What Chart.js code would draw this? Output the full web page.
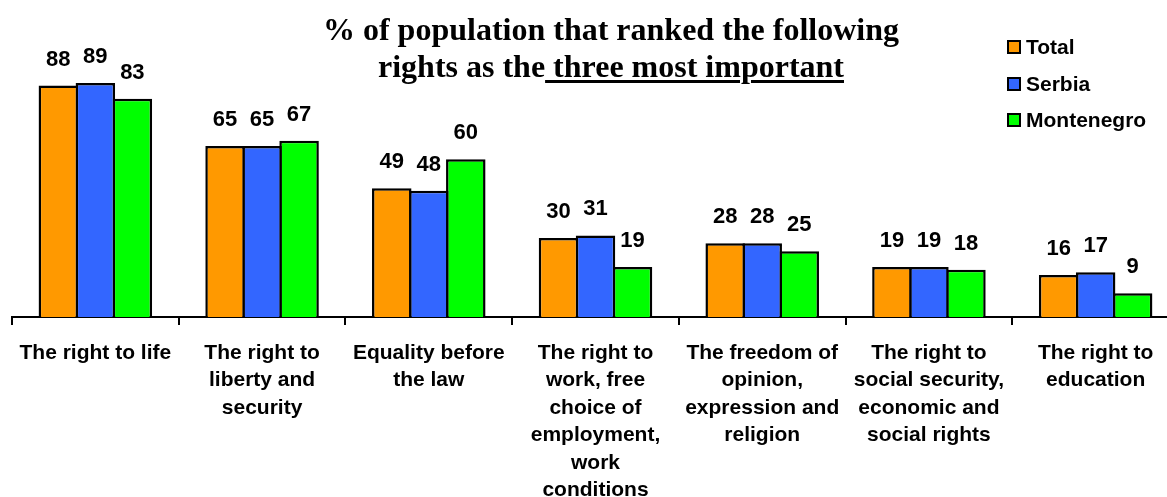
<!DOCTYPE html>
<html lang="en">
<head>
  <meta charset="UTF-8">
  <title>Most important rights</title>
  <style>
    body {
      margin: 0;
      background: #fff;
      overflow: hidden;
      width: 1167px;
      height: 497px;
      position: relative;
    }
    #wrap {
      position: absolute;
      left: 0;
      top: 0;
    }
    .title {
      position: absolute;
      left: 0;
      top: 11px;
      width: 1222px;
      text-align: center;
      font: bold 32px/37px 'Liberation Serif', 'Times New Roman', serif;
      color: #000;
    }
    .title u {
      text-decoration-thickness: 3px;
      text-underline-offset: 3px;
    }
    .legend {
      position: absolute;
      left: 1007px;
      top: 29px;
      font: bold 21px 'Liberation Sans', Arial, sans-serif;
      color: #000;
    }
    .legend .row {
      display: flex;
      align-items: center;
      height: 36.5px;
    }
    .legend .box {
      width: 10px;
      height: 10px;
      border: 2px solid #000;
      margin-right: 5px;
    }
  </style>
</head>
<body>
  <div id="wrap">
    <canvas id="rightsChart" width="1182" height="520"></canvas>
  </div>
  <div class="title">% of population that ranked the following<br>rights as the<u> three most important</u></div>
  <div class="legend" id="legend"></div>

  <script src="https://cdn.jsdelivr.net/npm/chart.js"></script>
  <script>
    const categories = [
      'The right to life',
      ['The right to', 'liberty and', 'security'],
      ['Equality before', 'the law'],
      ['The right to', 'work, free', 'choice of', 'employment,', 'work', 'conditions'],
      ['The freedom of', 'opinion,', 'expression and', 'religion'],
      ['The right to', 'social security,', 'economic and', 'social rights'],
      ['The right to', 'education']
    ];
    const seriesNames = ['Total', 'Serbia', 'Montenegro'];
    const seriesColors = ['#FF9900', '#3366FF', '#00FF00'];
    const totalValues = [88, 65, 49, 30, 28, 19, 16];
    const serbiaValues = [89, 65, 48, 31, 28, 19, 17];
    const montenegroValues = [83, 67, 60, 19, 25, 18, 9];

    const FONT = "'Liberation Sans', Arial, sans-serif";

    // legend built from the series
    const legendEl = document.getElementById('legend');
    seriesNames.forEach((name, i) => {
      const row = document.createElement('div');
      row.className = 'row';
      row.innerHTML = `<span class="box" style="background:${seriesColors[i]}"></span>${name}`;
      legendEl.appendChild(row);
    });

    // value labels above every bar
    const valueLabels = {
      id: 'valueLabels',
      afterDatasetsDraw(chart) {
        const ctx = chart.ctx;
        ctx.save();
        ctx.font = `bold 22px ${FONT}`;
        ctx.fillStyle = '#000';
        ctx.textAlign = 'center';
        ctx.textBaseline = 'alphabetic';
        chart.data.datasets.forEach((ds, i) => {
          chart.getDatasetMeta(i).data.forEach((bar, j) => {
            ctx.fillText(ds.data[j], bar.x, bar.y - 20);
          });
        });
        ctx.restore();
      }
    };

    const allValues = [totalValues, serbiaValues, montenegroValues];
    const ctx = document.getElementById('rightsChart').getContext('2d');
    new Chart(ctx, {
      type: 'bar',
      data: {
        labels: categories,
        datasets: seriesNames.map((name, i) => ({
          label: name,
          data: allValues[i],
          backgroundColor: seriesColors[i],
          borderColor: '#000',
          borderWidth: 2.5,
          // slightly wider than the slot so neighbours share one border
          barPercentage: 1.0676,
          categoryPercentage: 0.666
        }))
      },
      options: {
        responsive: false,
        animation: false,
        layout: { padding: { left: 12, right: 3, top: 54, bottom: 0 } },
        plugins: {
          legend: { display: false },
          tooltip: { enabled: false }
        },
        scales: {
          y: {
            display: false,
            min: 0,
            max: 100
          },
          x: {
            offset: true,
            grid: {
              offset: true,
              drawOnChartArea: false,
              drawTicks: true,
              tickLength: 8,
              color: '#000',
              lineWidth: 2
            },
            border: { display: true, color: '#000', width: 2 },
            ticks: {
              color: '#000',
              autoSkip: false,
              maxRotation: 0,
              minRotation: 0,
              padding: 14,
              font: { family: FONT, size: 21, weight: 'bold', lineHeight: 1.31 }
            },
            afterFit(scale) {
              scale.height = 520 - 317;
            }
          }
        }
      },
      plugins: [valueLabels]
    });
  </script>
</body>
</html>
